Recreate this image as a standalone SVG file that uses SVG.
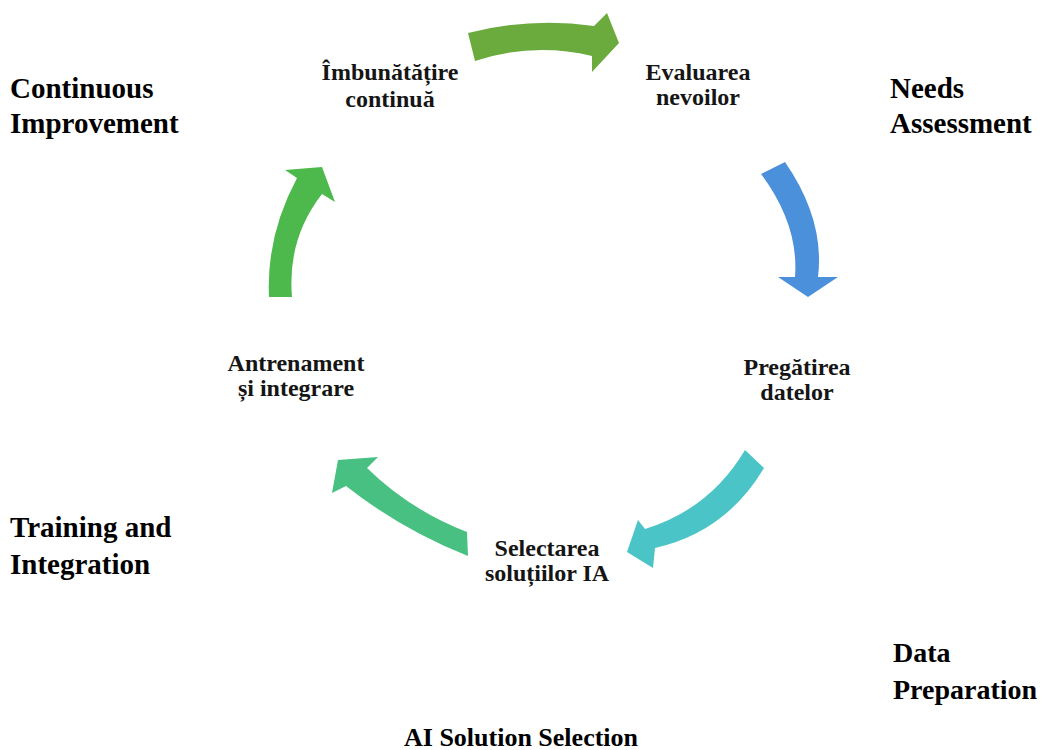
<svg xmlns="http://www.w3.org/2000/svg" width="1043" height="750" viewBox="0 0 1043 750">
<style>
.ro{font-family:"Liberation Serif","Times New Roman",serif;font-weight:bold;font-size:24px;fill:#151515;text-anchor:middle}
.en{font-family:"Liberation Serif","Times New Roman",serif;font-weight:bold;font-size:29px;fill:#000}
</style>
<rect width="1043" height="750" fill="#fff"/>
<g id="connectors">
<path id="a1" fill="#6BAB3D" d="M468,33 Q531,17 594,26 L607,13 L619,43 L592,72 L592,56 Q533,42 475,61 Z"/>
<path id="a2" fill="#4A90DA" d="M761,174 L785,162 Q825,220 818,277 L838,277 L808,297 L778,277 L795,277 Q799,225 761,174 Z"/>
<path id="a3" fill="#4BC4C8" d="M745,450 L764,468 Q726,532 655,548 L653,568 L627,552 L638,520 L645,529 Q710,509 745,450 Z"/>
<path id="a4" fill="#47C081" d="M467,532 L468,556 Q402,530 346,486 L332,493 L338,460 L378,457 L367,468 Q410,510 467,532 Z"/>
<path id="a5" fill="#4DB84C" d="M269,297 Q266,236 297,178 L285,170 L322,167 L335,202 L322,194 Q287,239 292,297 Z"/>
</g>
<g id="n-improve"><text class="ro" x="390" y="80">Îmbunătățire</text><text class="ro" x="390" y="107">continuă</text></g>
<g id="n-needs"><text class="ro" x="698" y="80">Evaluarea</text><text class="ro" x="698" y="105">nevoilor</text></g>
<g id="n-data"><text class="ro" x="797" y="375">Pregătirea</text><text class="ro" x="797" y="400">datelor</text></g>
<g id="n-select"><text class="ro" x="547" y="556">Selectarea</text><text class="ro" x="547" y="581">soluțiilor  IA</text></g>
<g id="n-train"><text class="ro" x="296" y="371">Antrenament</text><text class="ro" x="296" y="396">și integrare</text></g>
<g id="labels">
<text class="en" x="10" y="98">Continuous</text><text class="en" x="10" y="133">Improvement</text>
<text class="en" x="890" y="98">Needs</text><text class="en" x="890" y="133">Assessment</text>
<text class="en" x="10" y="537">Training and</text><text class="en" x="10" y="574">Integration</text>
<text class="en" x="893" y="662" style="font-size:28px">Data</text><text class="en" x="893" y="699" style="font-size:28px">Preparation</text>
<text class="en" x="521" y="746" text-anchor="middle" style="font-size:26px">AI Solution Selection</text>
</g>
</svg>
